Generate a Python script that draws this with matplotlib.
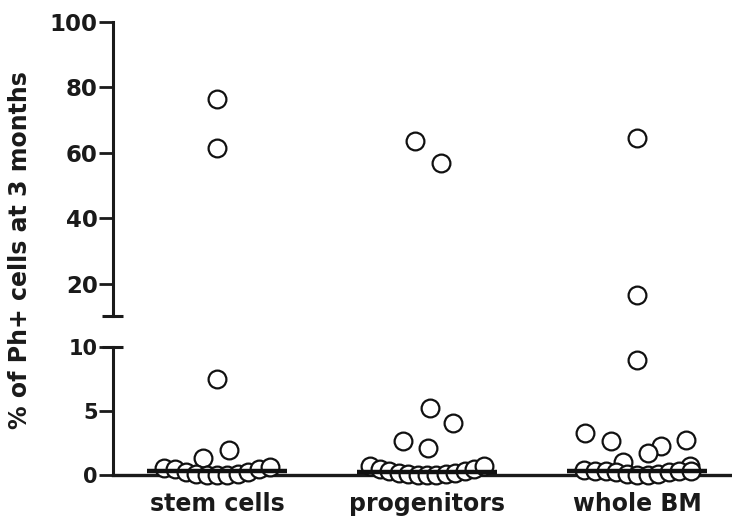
import matplotlib
matplotlib.use("Agg")
import matplotlib.pyplot as plt
from matplotlib.lines import Line2D
import numpy as np

plt.rcParams['font.family'] = ['DejaVu Sans']
plt.rcParams['font.weight'] = 'bold'

# ---- data ----
categories = ["stem cells", "progenitors", "whole BM"]
cat_pos = [0, 1, 2]

stem_values = [76.5, 61.5, 7.5, 1.95, 1.35,
               0.55, 0.45, 0.2, 0.05, 0.0, 0.0, 0.0, 0.05, 0.2, 0.45, 0.6]
stem_offsets = [0.0, 0.0, 0.0, 0.057, -0.067,
                -0.252, -0.2, -0.148, -0.098, -0.048, 0.0, 0.05, 0.1, 0.15, 0.2, 0.252]

prog_values = [63.7, 57.0, 5.2, 4.06, 2.66, 2.1,
               0.7, 0.5, 0.3, 0.15, 0.05, 0.0, 0.0, 0.0, 0.05, 0.15, 0.3, 0.5, 0.7]
prog_offsets = [-0.055, 0.067, 0.012, 0.126, -0.112, 0.007,
                -0.27, -0.225, -0.18, -0.135, -0.09, -0.045, 0.0, 0.045, 0.09, 0.135, 0.18, 0.225, 0.27]

bm_values = [64.6, 16.6, 9.0, 3.3, 2.65, 2.7, 2.3, 1.7, 1.0, 0.7,
             0.4, 0.35, 0.3, 0.2, 0.05, 0.0, 0.0, 0.05, 0.2, 0.3, 0.35]
bm_offsets = [0.0, 0.0, 0.0, -0.248, -0.124, 0.233, 0.114, 0.052, -0.067, 0.252,
              -0.252, -0.2, -0.15, -0.1, -0.05, 0.0, 0.05, 0.1, 0.15, 0.2, 0.255]

medians = [0.3, 0.2, 0.3]

top_ticks = [20, 40, 60, 80, 100]
bottom_ticks = [0, 5, 10]
ylabel = "% of Ph+ cells at 3 months"

# ---- figure ----
W, H = 732, 523
fig = plt.figure(figsize=(W / 100, H / 100), dpi=100)

ax_left = 113 / W
ax_w = 1 - ax_left
ax_top = fig.add_axes([ax_left, 1 - 316 / H, ax_w, (316 - 22) / H])
ax_bot = fig.add_axes([ax_left, 1 - 475 / H, ax_w, (475 - 347) / H])

xlim = (-0.495, 2.452)
top_lim = (10.2, 100)
bot_lim = (0, 10)
groups = [(stem_values, stem_offsets), (prog_values, prog_offsets), (bm_values, bm_offsets)]

for ax, (lo, hi) in ((ax_top, top_lim), (ax_bot, bot_lim)):
    for i, (vals, offs) in enumerate(groups):
        v = np.array(vals, dtype=float)
        x = np.array(offs) + cat_pos[i]
        m = (v >= lo) & (v <= hi)
        ax.plot(x[m], v[m], 'o', ms=12.8, mfc='white', mec='#111111', mew=1.6,
                ls='none', clip_on=False, zorder=3)
        if lo <= medians[i] <= hi:
            ax.plot([cat_pos[i] - 0.333, cat_pos[i] + 0.333], [medians[i]] * 2,
                    color='#111111', lw=3.2, solid_capstyle='butt', zorder=5)
    ax.set_xlim(*xlim)
    ax.set_ylim(lo, hi)
    ax.spines['right'].set_visible(False)
    ax.spines['top'].set_visible(False)
    ax.spines['left'].set_linewidth(2.2)
    ax.spines['left'].set_color('#1a1a1a')
    ax.patch.set_visible(False)

ax_top.spines['bottom'].set_visible(False)
ax_top.set_xticks([])
ax_top.set_yticks(top_ticks)
ax_top.set_yticklabels([str(t) for t in top_ticks], fontsize=16.5, fontweight='bold', color='#1a1a1a')
ax_top.tick_params(axis='y', length=10, width=2, pad=1, color='#1a1a1a')

ax_bot.set_yticks(bottom_ticks)
ax_bot.set_yticklabels([str(t) for t in bottom_ticks], fontsize=15, fontweight='bold', color='#1a1a1a')
ax_bot.tick_params(axis='y', length=10, width=2, pad=1, color='#1a1a1a')
ax_bot.spines['bottom'].set_linewidth(2.4)
ax_bot.spines['bottom'].set_color('#1a1a1a')
ax_bot.set_xticks(cat_pos)
ax_bot.set_xticklabels(categories, fontsize=17, fontweight='bold', color='#1a1a1a')
ax_bot.tick_params(axis='x', length=3, width=1.5, pad=9, color='#1a1a1a')

# break caps on the y axis
for ypix in (316, 347):
    fig.add_artist(Line2D([(113 - 11) / W, (113 + 10) / W], [1 - ypix / H] * 2,
                          transform=fig.transFigure, color='#1a1a1a', lw=2.2,
                          solid_capstyle='butt'))

fig.text(20 / W, 1 - 250 / H, ylabel, rotation=90, ha='center', va='center',
         fontsize=17, fontweight='bold', color='#1a1a1a')

fig.savefig("out.png", dpi=100)
